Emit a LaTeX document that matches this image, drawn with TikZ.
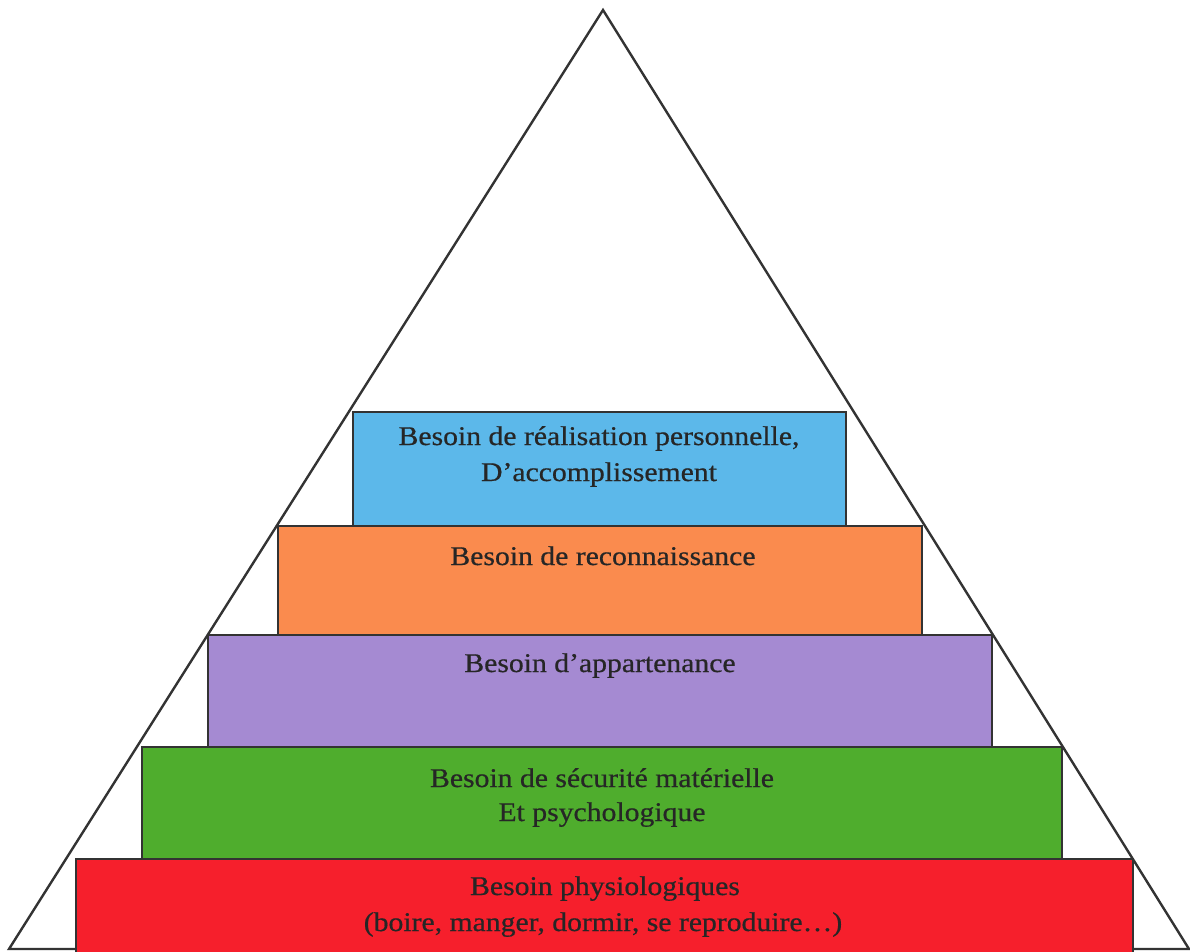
\documentclass[tikz,border=0pt]{standalone}
\usepackage{fontspec}
\setmainfont[FakeStretch=1.1,FakeBold=0.6]{Liberation Serif}
\definecolor{lineink}{HTML}{333333}
\definecolor{textink}{HTML}{262626}
\definecolor{lvlblue}{HTML}{5CB8EA}
\definecolor{lvlorange}{HTML}{FA8B4E}
\definecolor{lvlpurple}{HTML}{A58AD2}
\definecolor{lvlgreen}{HTML}{4FAD2D}
\definecolor{lvlred}{HTML}{F61F2C}
\begin{document}
\begin{tikzpicture}[x=1pt,y=-1pt,
  edge/.style={draw=lineink,line width=2.4pt,line join=miter},
  level/.style={draw=lineink,line width=2.2pt},
  lbl/.style={anchor=base,inner sep=0pt,text=textink,align=center,
    font=\fontsize{27}{36}\selectfont}]
\useasboundingbox (0,0) rectangle (1190,951);
% pyramid outline
\coordinate (apex) at (603,10);
\coordinate (baseL) at (9,949);
\coordinate (baseR) at (1189,949);
\draw[edge] (apex) -- (baseL) -- (baseR) -- cycle;
% levels, top to bottom
\path[level,fill=lvlblue]   (353,412) rectangle (846,526);
\path[level,fill=lvlorange] (278,526) rectangle (922,635);
\path[level,fill=lvlpurple] (208,635) rectangle (992,747);
\path[level,fill=lvlgreen]  (142,747) rectangle (1062,859);
\path[level,fill=lvlred]    (76,859)  rectangle (1133,960);
% labels
\node[lbl] (t1a) at (599,445) {Besoin de réalisation personnelle,};
\node[lbl] (t1b) at (599,481) {D’accomplissement};
\node[lbl] (t2)  at (603,565) {Besoin de reconnaissance};
\node[lbl] (t3)  at (600,672) {Besoin d’appartenance};
\node[lbl] (t4a) at (602,787) {Besoin de sécurité matérielle};
\node[lbl] (t4b) at (602,821) {Et psychologique};
\node[lbl] (t5a) at (605,895) {Besoin physiologiques};
\node[lbl] (t5b) at (603,931) {(boire, manger, dormir, se reproduire…)};
\end{tikzpicture}
\end{document}
